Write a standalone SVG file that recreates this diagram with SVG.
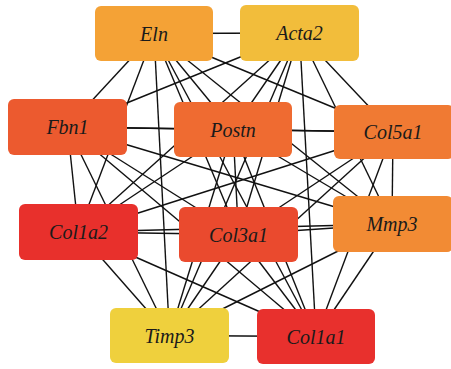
<svg xmlns="http://www.w3.org/2000/svg" width="451" height="369" viewBox="0 0 451 369">
<style>
.bg{fill:#ffffff}
.e line{stroke:#111;stroke-width:1.4;fill:none}
.n rect{rx:6;ry:6}
.n text{font-family:"Liberation Serif","Times New Roman",serif;font-style:italic;font-size:20px;fill:#1a1a1a;text-anchor:middle}
</style>
<rect class="bg" x="0" y="0" width="451" height="369"/>
<g id="edges" class="e">
<line x1="154" y1="33.5" x2="299.5" y2="33"/>
<line x1="154" y1="33.5" x2="67.5" y2="127"/>
<line x1="154" y1="33.5" x2="233" y2="129.5"/>
<line x1="154" y1="33.5" x2="393" y2="132"/>
<line x1="154" y1="33.5" x2="78.5" y2="232"/>
<line x1="154" y1="33.5" x2="238.5" y2="234.5"/>
<line x1="154" y1="33.5" x2="392" y2="224"/>
<line x1="154" y1="33.5" x2="169.5" y2="335.5"/>
<line x1="154" y1="33.5" x2="316" y2="336.5"/>
<line x1="299.5" y1="33" x2="67.5" y2="127"/>
<line x1="299.5" y1="33" x2="233" y2="129.5"/>
<line x1="299.5" y1="33" x2="393" y2="132"/>
<line x1="299.5" y1="33" x2="78.5" y2="232"/>
<line x1="299.5" y1="33" x2="238.5" y2="234.5"/>
<line x1="299.5" y1="33" x2="392" y2="224"/>
<line x1="299.5" y1="33" x2="169.5" y2="335.5"/>
<line x1="299.5" y1="33" x2="316" y2="336.5"/>
<line x1="67.5" y1="127" x2="233" y2="129.5"/>
<line x1="67.5" y1="127" x2="393" y2="132"/>
<line x1="67.5" y1="127" x2="78.5" y2="232"/>
<line x1="67.5" y1="127" x2="238.5" y2="234.5"/>
<line x1="67.5" y1="127" x2="392" y2="224"/>
<line x1="67.5" y1="127" x2="169.5" y2="335.5"/>
<line x1="67.5" y1="127" x2="316" y2="336.5"/>
<line x1="233" y1="129.5" x2="393" y2="132"/>
<line x1="233" y1="129.5" x2="78.5" y2="232"/>
<line x1="233" y1="129.5" x2="238.5" y2="234.5"/>
<line x1="233" y1="129.5" x2="392" y2="224"/>
<line x1="233" y1="129.5" x2="169.5" y2="335.5"/>
<line x1="233" y1="129.5" x2="316" y2="336.5"/>
<line x1="393" y1="132" x2="78.5" y2="232"/>
<line x1="393" y1="132" x2="238.5" y2="234.5"/>
<line x1="393" y1="132" x2="392" y2="224"/>
<line x1="393" y1="132" x2="169.5" y2="335.5"/>
<line x1="393" y1="132" x2="316" y2="336.5"/>
<line x1="78.5" y1="232" x2="238.5" y2="234.5"/>
<line x1="78.5" y1="232" x2="392" y2="224"/>
<line x1="78.5" y1="232" x2="169.5" y2="335.5"/>
<line x1="78.5" y1="232" x2="316" y2="336.5"/>
<line x1="238.5" y1="234.5" x2="392" y2="224"/>
<line x1="238.5" y1="234.5" x2="169.5" y2="335.5"/>
<line x1="238.5" y1="234.5" x2="316" y2="336.5"/>
<line x1="392" y1="224" x2="169.5" y2="335.5"/>
<line x1="392" y1="224" x2="316" y2="336.5"/>
<line x1="169.5" y1="335.5" x2="316" y2="336.5"/>
</g>
<g id="Eln" class="n"><rect x="95" y="6" width="118" height="55" fill="#F4A236"/><text x="154" y="40.5">Eln</text></g>
<g id="Acta2" class="n"><rect x="240" y="5" width="119" height="56" fill="#F2BD3B"/><text x="299.5" y="40">Acta2</text></g>
<g id="Fbn1" class="n"><rect x="8" y="99" width="119" height="56" fill="#EC5A2F"/><text x="67.5" y="134">Fbn1</text></g>
<g id="Postn" class="n"><rect x="174" y="102" width="118" height="55" fill="#EF6B31"/><text x="233" y="136.5">Postn</text></g>
<g id="Col5a1" class="n"><rect x="334" y="105" width="120" height="54" fill="#F07A33"/><text x="393" y="139">Col5a1</text></g>
<g id="Col1a2" class="n"><rect x="19" y="204" width="119" height="56" fill="#E8302C"/><text x="78.5" y="239">Col1a2</text></g>
<g id="Col3a1" class="n"><rect x="179" y="207" width="119" height="55" fill="#EA4A2E"/><text x="238.5" y="241.5">Col3a1</text></g>
<g id="Mmp3" class="n"><rect x="333" y="196" width="120" height="56" fill="#F28B34"/><text x="392" y="231">Mmp3</text></g>
<g id="Timp3" class="n"><rect x="110" y="308" width="119" height="55" fill="#EFD03D"/><text x="169.5" y="342.5">Timp3</text></g>
<g id="Col1a1" class="n"><rect x="257" y="309" width="118" height="55" fill="#E8302D"/><text x="316" y="343.5">Col1a1</text></g>
</svg>
